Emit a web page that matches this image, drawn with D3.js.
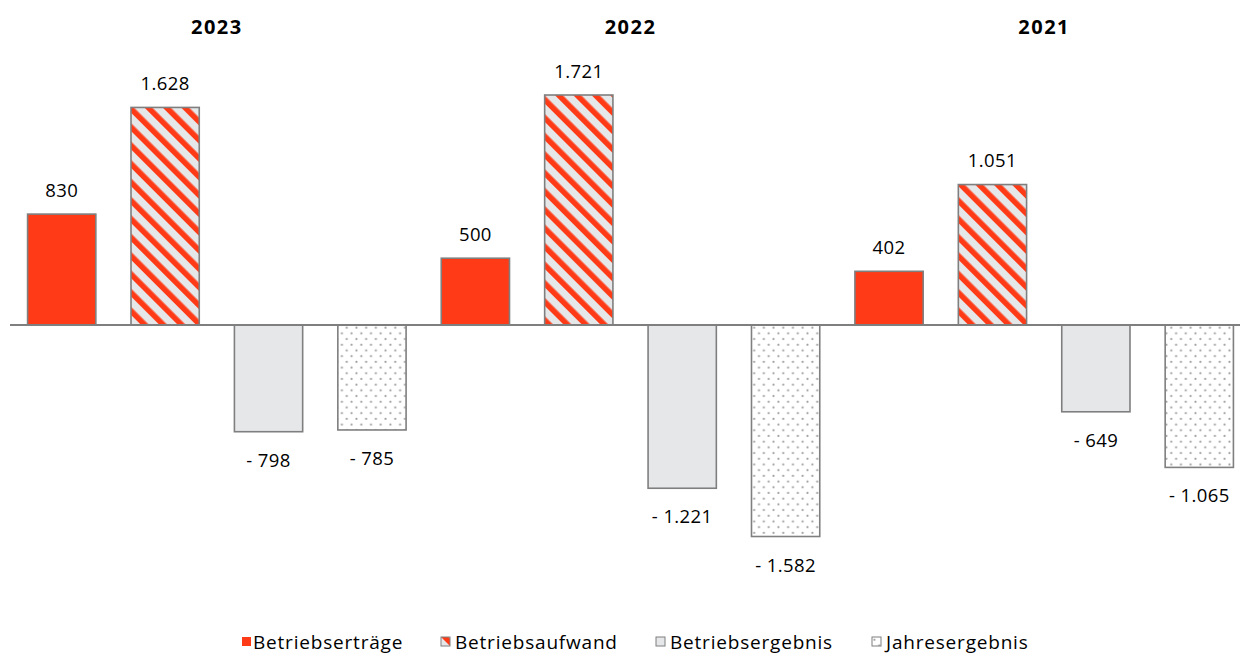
<!DOCTYPE html>
<html><head><meta charset="utf-8">
<script src="https://cdn.jsdelivr.net/npm/d3@7"></script>
<style>
body{margin:0;background:#fff;}
svg{display:block;font-family:"Open Sans","Noto Sans",sans-serif;}
</style></head>
<body><svg id="c" width="1240" height="655"></svg>
<script>
const years = ["2023","2022","2021"];
const seriesNames = ["Betriebserträge","Betriebsaufwand","Betriebsergebnis","Jahresergebnis"];
const betriebsertraege = [830, 500, 402];
const betriebsaufwand = [1628, 1721, 1051];
const betriebsergebnis = [-798, -1221, -649];
const jahresergebnis = [-785, -1582, -1065];
const seriesValues = [betriebsertraege, betriebsaufwand, betriebsergebnis, jahresergebnis];

const fmt = v => (v < 0 ? "- " : "") + Math.abs(v).toLocaleString("de-DE");

const svg = d3.select("#c");
const defs = svg.append("defs");
const P = 13;
const hatch = defs.append("pattern").attr("id","hatch").attr("patternUnits","userSpaceOnUse")
  .attr("width",P).attr("height",P).attr("patternTransform","rotate(-45)");
hatch.append("rect").attr("width",P).attr("height",P).attr("fill","#e6e7e9");
hatch.append("rect").attr("width",5.6).attr("height",P).attr("fill","#ff3b17");
const dots = defs.append("pattern").attr("id","dots").attr("patternUnits","userSpaceOnUse")
  .attr("width",9.7).attr("height",11.4);
dots.append("rect").attr("width",9.7).attr("height",11.4).attr("fill","#fff");
dots.append("circle").attr("cx",2.4).attr("cy",2.8).attr("r",1.1).attr("fill","#a0a0a0");
dots.append("circle").attr("cx",7.25).attr("cy",8.5).attr("r",1.1).attr("fill","#a0a0a0");

const fills = ["#ff3b17","url(#hatch)","#e6e7e9","url(#dots)"];

const x0 = d3.scaleBand().domain(years).range([10, 1251]).paddingInner(0).paddingOuter(0);
const x1 = d3.scaleBand().domain(seriesNames).range([0, x0.bandwidth()]).paddingInner(0.34).paddingOuter(0.17);
const y = d3.scaleLinear().domain([-1582, 1721]).range([536.5, 95]);

const data = [];
years.forEach((yr, i) => seriesNames.forEach((s, j) => data.push({yr, s, j, v: seriesValues[j][i]})));

// year titles
svg.selectAll("text.year").data(years).join("text")
  .attr("class","year")
  .attr("x", d => x0(d) + x0.bandwidth()/2)
  .attr("y", 34)
  .attr("text-anchor","middle")
  .attr("font-size",20).attr("font-weight","bold").attr("letter-spacing",1.5).attr("fill","#000")
  .text(d => d);

// bars
svg.selectAll("rect.bar").data(data).join("rect")
  .attr("class","bar")
  .attr("x", d => x0(d.yr) + x1(d.s))
  .attr("width", x1.bandwidth())
  .attr("y", d => Math.min(y(d.v), y(0)))
  .attr("height", d => Math.abs(y(d.v) - y(0)))
  .attr("fill", d => fills[d.j])
  .attr("stroke","#7f7f7f").attr("stroke-width",1.6);

// zero line
svg.append("line").attr("x1",10).attr("x2",1240).attr("y1",y(0)).attr("y2",y(0))
  .attr("stroke","#7f7f7f").attr("stroke-width",2);

// value labels
svg.selectAll("text.val").data(data).join("text")
  .attr("class","val")
  .attr("x", d => x0(d.yr) + x1(d.s) + x1.bandwidth()/2)
  .attr("y", d => d.v >= 0 ? y(d.v) - 17.5 : y(d.v) + 35)
  .attr("text-anchor","middle").attr("font-size",18.5).attr("letter-spacing",0.4).attr("fill","#000")
  .text(d => fmt(d.v));

// legend
const legX = [242, 441, 656, 872];
const lg = svg.selectAll("g.leg").data(seriesNames).join("g").attr("class","leg")
  .attr("transform", (d,i) => `translate(${legX[i]},637)`);
lg.append("rect").attr("width",9).attr("height",9)
  .attr("fill",(d,i)=>fills[i]).attr("stroke",(d,i)=> i===0 ? "none" : "#7f7f7f").attr("stroke-width",1);
lg.append("text").attr("x",(d,i)=> i===0 ? 11 : 14).attr("y",12)
  .attr("font-size",19).attr("letter-spacing",0.8).attr("fill","#000").text(d=>d);
</script></body></html>
